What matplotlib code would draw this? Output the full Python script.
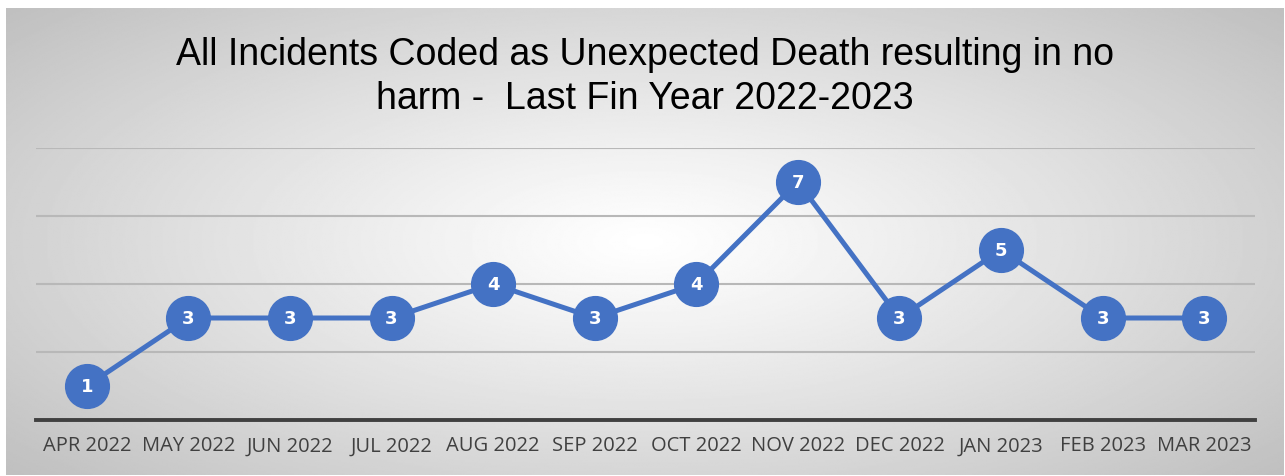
import numpy as np
import matplotlib.pyplot as plt

months = ['APR 2022', 'MAY 2022', 'JUN 2022', 'JUL 2022', 'AUG 2022', 'SEP 2022',
          'OCT 2022', 'NOV 2022', 'DEC 2022', 'JAN 2023', 'FEB 2023', 'MAR 2023']
counts = [1, 3, 3, 3, 4, 3, 4, 7, 3, 5, 3, 3]

W, H = 1285, 477
fig = plt.figure(figsize=(W / 100, H / 100), dpi=100)

# radial grey background of the chart area
bg = fig.add_axes([6 / W, 1 - 476 / H, 1278 / W, 467 / H])
yy, xx = np.mgrid[-1:1:300j, -1:1:800j]
r = np.sqrt(xx ** 2 + (yy * 0.9) ** 2) / np.sqrt(1 + 0.81)
shade = 1.0 - 0.25 * np.clip(r, 0, 1) ** 1.1
bg.imshow(shade, cmap='gray', vmin=0, vmax=1, aspect='auto', extent=[0, 1, 0, 1])
bg.axis('off')

ax = fig.add_axes([36 / W, 1 - 421 / H, 1219 / W, 272 / H])
ax.patch.set_alpha(0)
x = np.arange(len(months))
ax.plot(x, counts, color='#4472C4', lw=3.6, marker='o', ms=31.5,
        markeredgecolor='#4472C4', zorder=3)
for xi, c in zip(x, counts):
    ax.text(xi, c, str(c), ha='center', va='center', color='white',
            fontsize=13, fontweight='bold', family='DejaVu Sans', zorder=4)

ax.set_xlim(-0.5, len(months) - 0.5)
ax.set_ylim(0, 8)
ax.set_yticks([2, 4, 6, 8])
ax.yaxis.grid(True, color='#b8b8b8', lw=1.5)
ax.tick_params(axis='y', left=False, labelleft=False)
ax.set_xticks(x)
ax.set_xticklabels(months, fontsize=14.5, color='#404040', family='Open Sans')
ax.tick_params(axis='x', length=0, pad=11)
for s in ['top', 'right', 'left']:
    ax.spines[s].set_visible(False)
ax.spines['bottom'].set_color('#404040')
ax.spines['bottom'].set_linewidth(2.8)
ax.set_axisbelow(True)

fig.text(645 / W, 1 - 77 / H,
         'All Incidents Coded as Unexpected Death resulting in no\nharm -  Last Fin Year 2022-2023',
         ha='center', va='center', fontsize=27, family='Liberation Sans',
         linespacing=1.26)

fig.savefig('out.png', dpi=100)
